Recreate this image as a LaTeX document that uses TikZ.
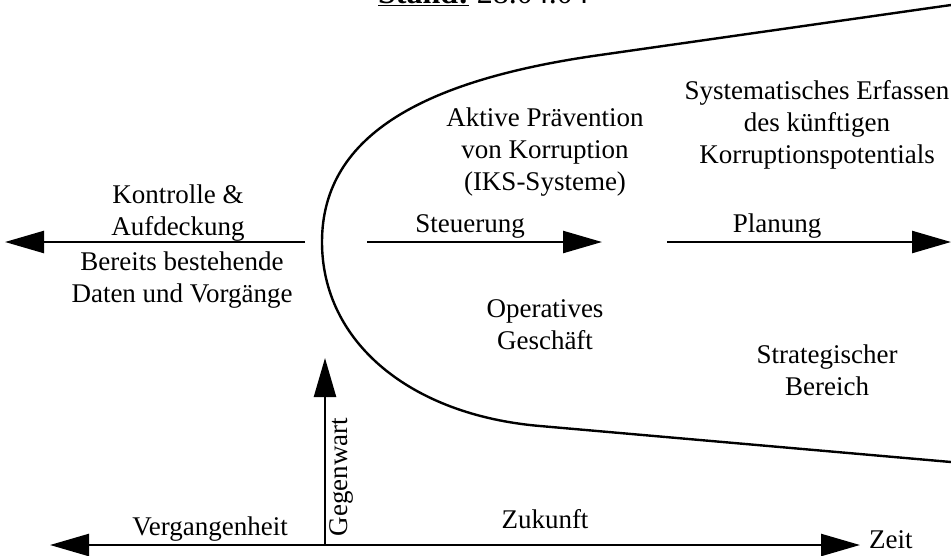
\documentclass[tikz,border=0pt]{standalone}
\usepackage{fontspec}
\setmainfont{Liberation Serif}
\usetikzlibrary{arrows.meta}

\begin{document}
\begin{tikzpicture}
        [
            x = 1pt, y = -1pt,
            beschr/.style = {align = center, inner sep = 0pt, font = \fontsize{27}{32}\selectfont},
            pfeil/.style = {line width = 2.4pt, -{Triangle[length = 39pt, width = 22pt]}},
            kurve/.style = {line width = 2.4pt}
        ]
        \useasboundingbox (0,0) rectangle (951,555);

        % Kopfzeile (oben abgeschnitten)
        \node[anchor = base west, inner sep = 0pt, font = \fontsize{32}{36}\selectfont] (stand) at (378,3)
            {\underline{\textbf{Stand:}} 28.04.04};

        % Trichter
        \draw[kurve] (951,5) -- (600,55)
            .. controls (430,79) and (322,132) .. (322,242)
            .. controls (322,342) and (410,415) .. (540,426) -- (951,462);

        % Pfeile in der Mitte
        \coordinate (kontrolleA) at (305,242);
        \coordinate (kontrolleB) at (5,242);
        \coordinate (steuerA) at (367,242);
        \coordinate (steuerB) at (602,242);
        \coordinate (planA) at (667,242);
        \coordinate (planB) at (951,242);
        \draw[pfeil] (kontrolleA) -- (kontrolleB);
        \draw[pfeil] (steuerA) -- (steuerB);
        \draw[pfeil] (planA) -- (planB);

        % Zeitachse
        \coordinate (vergangen) at (50,545);
        \coordinate (zukunft) at (860,545);
        \coordinate (jetzt) at (325,545);
        \coordinate (jetztB) at (325,358);
        \draw[pfeil, {Triangle[length = 39pt, width = 22pt]}-{Triangle[length = 39pt, width = 22pt]}] (vergangen) -- (zukunft);
        \draw[pfeil] (jetzt) -- (jetztB);

        % Beschriftungen
        \node[beschr] (kontrolle) at (178,213) {Kontrolle \&\\Aufdeckung};
        \node[beschr] (bestehend) at (182,280) {Bereits bestehende\\Daten und Vorgänge};
        \node[beschr, anchor = base] (steuerung) at (470,232) {Steuerung};
        \node[beschr, anchor = base] (planung) at (777,232) {Planung};
        \node[beschr] (praevention) at (545,152) {Aktive Prävention\\von Korruption\\(IKS-Systeme)};
        \node[beschr] (erfassen) at (817,125) {Systematisches Erfassen\\des künftigen\\Korruptionspotentials};
        \node[beschr] (operativ) at (545,325) {Operatives\\Geschäft};
        \node[beschr] (strategisch) at (827,370) {Strategischer\\Bereich};
        \node[beschr, anchor = base] (vergangenheit) at (210,535) {Vergangenheit};
        \node[beschr, anchor = base] (zukunftL) at (545,528) {Zukunft};
        \node[beschr, anchor = base west] (zeit) at (869,548) {Zeit};
        \node[beschr, rotate = 90] (gegenwart) at (341,477) {Gegenwart};
\end{tikzpicture}
\end{document}
